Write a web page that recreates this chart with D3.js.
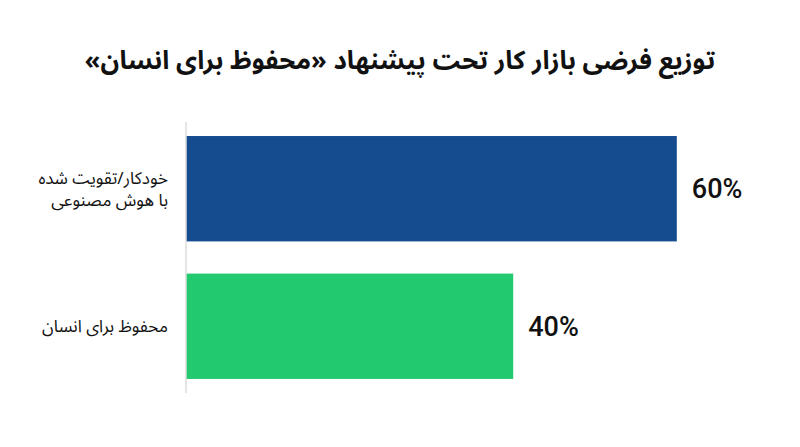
<!DOCTYPE html>
<html>
<head>
<meta charset="utf-8">
<script src="https://cdn.jsdelivr.net/npm/d3@7"></script>
<style>
  body { margin: 0; background: #fff; }
</style>
</head>
<body>
<svg></svg>
<script>
const categories = ["خودکار/تقویت شده\nبا هوش مصنوعی", "محفوظ برای انسان"];
const values = [60, 40];
const colors = ["#154b8f", "#23c96f"];
const title = "توزیع فرضی بازار کار تحت پیشنهاد «محفوظ برای انسان»";

const width = 800;
const height = 447;
const margin = { top: 122, right: 0, bottom: 54, left: 186 };

const svg = d3.select("svg").attr("width", width).attr("height", height);

const x = d3.scaleLinear()
  .domain([0, 100])
  .range([margin.left, margin.left + 818]);

const y = d3.scaleBand()
  .domain(categories)
  .range([margin.top, height - margin.bottom])
  .paddingInner(0.234)
  .paddingOuter(0.102);

svg.append("text")
  .attr("x", 400)
  .attr("y", 60)
  .attr("dy", "0.35em")
  .attr("text-anchor", "middle")
  .attr("direction", "rtl")
  .attr("font-family", "'Noto Sans Arabic', 'DejaVu Sans', sans-serif")
  .attr("font-size", 25.8)
  .attr("font-weight", "bold")
  .attr("fill", "#111")
  .text(title);

// bars
svg.selectAll("rect.bar")
  .data(values)
  .enter()
  .append("rect")
  .attr("class", "bar")
  .attr("x", x(0))
  .attr("y", (d, i) => y(categories[i]))
  .attr("width", (d) => x(d) - x(0))
  .attr("height", y.bandwidth())
  .attr("fill", (d, i) => colors[i]);

// axis line
svg.append("line")
  .attr("x1", x(0))
  .attr("x2", x(0))
  .attr("y1", margin.top)
  .attr("y2", height - margin.bottom)
  .attr("stroke", "#dddddd")
  .attr("stroke-width", 1.5);

// category labels
const labels = svg.selectAll("text.cat")
  .data(categories)
  .enter()
  .append("text")
  .attr("class", "cat")
  .attr("direction", "rtl")
  .attr("text-anchor", "start")
  .attr("font-family", "'Noto Sans Arabic', 'DejaVu Sans', sans-serif")
  .attr("font-size", 17)
  .attr("fill", "#111")
  .attr("transform", (d) => `translate(168,${y(d) + y.bandwidth() / 2})`);

labels.each(function (d) {
  const lines = d.split("\n");
  const lh = 22;
  const t = d3.select(this);
  lines.forEach((line, j) => {
    t.append("tspan")
      .attr("x", 0)
      .attr("y", (j - (lines.length - 1) / 2) * lh)
      .attr("dy", "0.35em")
      .text(line);
  });
});

// value labels
svg.selectAll("text.val")
  .data(values)
  .enter()
  .append("text")
  .attr("class", "val")
  .attr("x", (d) => x(d) + 15)
  .attr("y", (d, i) => y(categories[i]) + y.bandwidth() / 2)
  .attr("dy", "0.35em")
  .attr("font-family", "Roboto, 'Open Sans', sans-serif")
  .attr("font-size", 27)
  .attr("font-weight", 500)
  .attr("fill", "#111")
  .text((d) => d + "%");
</script>
</body>
</html>
